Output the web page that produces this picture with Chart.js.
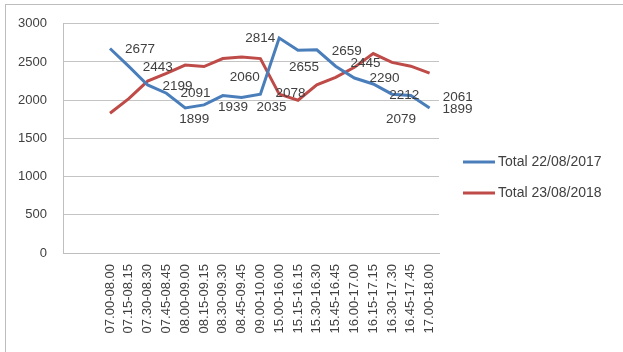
<!DOCTYPE html>
<html>
<head>
<meta charset="utf-8">
<script src="https://cdn.jsdelivr.net/npm/chart.js@4.4.1/dist/chart.umd.min.js"></script>
<style>
  html, body { margin: 0; padding: 0; background: #fff; }
  #wrap { position: relative; width: 623px; height: 352px; overflow: hidden; }
  #frame { position: absolute; left: 5px; top: 4px; right: -2px; bottom: -2px;
           border-left: 1px solid #bdbdbd; border-top: 1px solid #bdbdbd; }
  canvas { position: absolute; left: 0; top: 0; }
</style>
</head>
<body>
<div id="wrap">
  <div id="frame"></div>
  <canvas id="lineChart" width="623" height="352"></canvas>
</div>
<script>
// --- Data (two empty leading categories, as in the sheet) ---
const categories = ['', '',
    '07.00-08.00', '07.15-08.15', '07.30-08.30', '07.45-08.45', '08.00-09.00',
    '08.15-09.15', '08.30-09.30', '08.45-09.45', '09.00-10.00', '15.00-16.00',
    '15.15-16.15', '15.30-16.30', '15.45-16.45', '16.00-17.00', '16.15-17.15',
    '16.30-17.30', '16.45-17.45', '17.00-18.00'];

const total2017 = [null, null,
    2677, 2443, 2199, 2091, 1899, 1939, 2060, 2035, 2078,
    2814, 2655, 2659, 2445, 2290, 2212, 2079, 2061, 1899];

const total2018 = [null, null,
    1830, 2020, 2250, 2350, 2460, 2440, 2545, 2565, 2545,
    2080, 2000, 2200, 2300, 2430, 2610, 2495, 2445, 2355];

const seriesNames = ['Total 22/08/2017', 'Total 23/08/2018'];
const yTicks = [0, 500, 1000, 1500, 2000, 2500, 3000];

// label placement for the 2017 values: [dx to left edge, dy to middle]
const labelOffsets = [null, null,
    [15, 1], [14, 1], [15, 1], [14, 0], [-6, 11], [14, 2], [7, -18], [15, 10], [15, -1],
    [-34, 0], [-9, 17], [15, 1], [15, -3], [15, 0], [16, 11], [-6, 25], [32, 2], [13, 1]];

const blue = '#4a7ebb';
const red = '#be4b48';
const textColor = '#404040';
const fontFamily = "'Liberation Sans', Arial, sans-serif";

// Value labels next to the 2017 line
const valueLabels = {
    id: 'valueLabels',
    afterDatasetsDraw(chart) {
        const ctx = chart.ctx;
        const meta = chart.getDatasetMeta(0);
        ctx.save();
        ctx.font = '13.5px ' + fontFamily;
        ctx.fillStyle = textColor;
        ctx.textAlign = 'left';
        ctx.textBaseline = 'middle';
        meta.data.forEach((pt, i) => {
            const v = total2017[i];
            if (v == null) return;
            const off = labelOffsets[i];
            ctx.fillText(String(v), pt.x + off[0], pt.y + off[1]);
        });
        ctx.restore();
    }
};

// Legend on the right, Excel style
const sideLegend = {
    id: 'sideLegend',
    afterDraw(chart) {
        const ctx = chart.ctx;
        const x0 = chart.chartArea.right + 24;
        const rows = [162, 193];
        ctx.save();
        ctx.font = '14px ' + fontFamily;
        ctx.textBaseline = 'middle';
        ctx.textAlign = 'left';
        chart.data.datasets.forEach((ds, i) => {
            const y = rows[i];
            ctx.strokeStyle = ds.borderColor;
            ctx.lineWidth = 3;
            ctx.beginPath();
            ctx.moveTo(x0, y);
            ctx.lineTo(x0 + 32, y);
            ctx.stroke();
            ctx.fillStyle = textColor;
            ctx.fillText(ds.label, x0 + 35, y);
        });
        ctx.restore();
    }
};

const ctx = document.getElementById('lineChart').getContext('2d');
new Chart(ctx, {
    type: 'line',
    data: {
        labels: categories,
        datasets: [{
            label: seriesNames[0],
            data: total2017,
            borderColor: blue,
            backgroundColor: blue,
            borderWidth: 3,
            pointRadius: 0,
            tension: 0
        }, {
            label: seriesNames[1],
            data: total2018,
            borderColor: red,
            backgroundColor: red,
            borderWidth: 3,
            pointRadius: 0,
            tension: 0
        }]
    },
    options: {
        responsive: false,
        animation: false,
        layout: { padding: { top: 22, right: 184, bottom: 0, left: 0 } },
        plugins: {
            legend: { display: false },
            tooltip: { enabled: false }
        },
        scales: {
            x: {
                offset: true,
                grid: { display: false },
                border: { display: true, color: '#bfbfbf', width: 1 },
                ticks: {
                    autoSkip: false,
                    minRotation: 90,
                    maxRotation: 90,
                    padding: 3,
                    color: textColor,
                    font: { family: fontFamily, size: 13 }
                },
                afterFit: function(scale) { scale.height = 99; }
            },
            y: {
                min: 0,
                max: 3000,
                afterBuildTicks: function(scale) {
                    scale.ticks = yTicks.map(v => ({ value: v }));
                },
                grid: { color: '#c4c4c4', drawTicks: false },
                border: { display: true, color: '#bfbfbf', width: 1 },
                ticks: {
                    padding: 16,
                    color: textColor,
                    font: { family: fontFamily, size: 13 },
                    callback: function(value) { return String(value); }
                },
                afterFit: function(scale) { scale.width = 63; }
            }
        }
    },
    plugins: [valueLabels, sideLegend]
});
</script>
</body>
</html>
